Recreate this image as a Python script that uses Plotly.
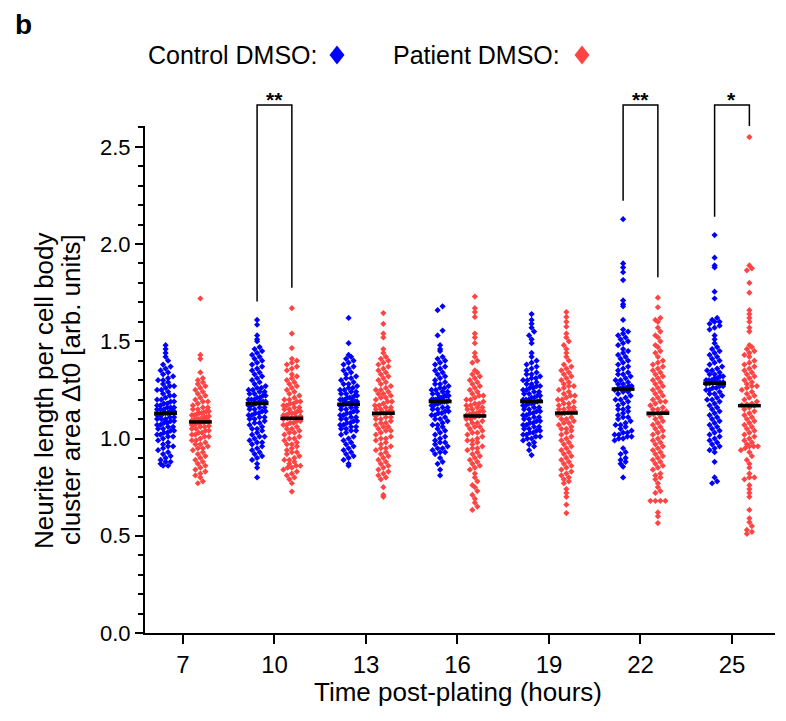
import numpy as np
import plotly.graph_objects as go

# ---------------- data ----------------
times = ['7', '10', '13', '16', '19', '22', '25']

ctrl_7 = [1.48,1.46,1.44,1.42,1.40,1.38,1.37,1.36,1.35,1.34,1.33,1.32,1.31,1.30,1.30,1.29,1.28,1.27,1.27,1.26,
          1.25,1.25,1.24,1.23,1.22,1.22,1.21,1.20,1.20,1.19,1.19,1.18,1.18,1.17,1.17,1.16,1.16,1.16,1.15,1.15,
          1.15,1.14,1.14,1.14,1.13,1.13,
          1.13,1.12,1.12,1.12,1.11,1.11,1.10,1.10,1.10,1.09,1.09,1.08,1.08,1.07,1.07,1.06,1.06,1.05,1.05,1.04,
          1.04,1.03,1.03,1.02,1.02,1.01,1.01,1.00,0.99,0.98,0.97,0.96,0.96,0.95,0.94,0.93,0.92,0.91,0.90,0.89,
          0.88,0.88,0.87,0.86,0.86]
pat_7 = [1.72,1.43,1.41,1.34,1.31,1.30,1.29,1.28,1.27,1.26,1.25,1.24,1.23,1.22,1.21,1.20,1.19,1.19,1.18,1.17,
         1.16,1.16,1.15,1.15,1.14,1.14,1.13,1.13,1.12,1.12,1.115,1.11,1.11,1.105,1.10,1.10,1.098,1.095,1.093,1.09,
         1.09,1.088,1.086,1.135,1.125,1.085,
         1.083,1.08,1.08,1.075,1.07,1.07,1.065,1.06,1.06,1.05,1.05,1.04,1.04,1.03,1.03,1.02,1.02,1.01,1.01,1.00,
         0.99,0.99,0.98,0.97,0.97,0.96,0.95,0.95,0.94,0.93,0.92,0.91,0.90,0.89,0.88,0.87,0.86,0.85,0.84,0.83,
         0.82,0.81,0.80,0.78,0.77]
ctrl_10 = [1.61,1.585,1.53,1.51,1.50,1.47,1.46,1.45,1.44,1.43,1.42,1.41,1.40,1.39,1.38,1.37,1.36,1.35,1.34,1.33,
           1.32,1.31,1.30,1.29,1.28,1.27,1.26,1.26,1.25,1.25,1.24,1.24,1.23,1.23,1.22,1.22,1.21,1.21,1.20,1.20,
           1.20,1.19,1.19,1.19,1.185,1.18,
           1.175,1.17,1.17,1.16,1.16,1.15,1.15,1.14,1.14,1.13,1.13,1.12,1.12,1.11,1.11,1.10,1.10,1.09,1.08,1.08,
           1.07,1.06,1.05,1.05,1.04,1.03,1.02,1.01,1.01,1.00,0.99,0.98,0.98,0.97,0.96,0.95,0.94,0.93,0.92,0.91,
           0.90,0.89,0.87,0.85,0.80]
pat_10 = [1.67,1.54,1.465,1.41,1.40,1.39,1.38,1.37,1.36,1.35,1.33,1.32,1.31,1.30,1.29,1.28,1.27,1.26,1.25,1.24,
          1.23,1.22,1.21,1.20,1.20,1.19,1.19,1.18,1.18,1.17,1.17,1.16,1.16,1.15,1.15,1.14,1.14,1.13,1.13,1.13,
          1.12,1.12,1.115,1.11,1.108,1.104,
          1.10,1.09,1.09,1.08,1.08,1.07,1.07,1.06,1.05,1.05,1.04,1.03,1.03,1.02,1.01,1.00,1.00,0.99,0.98,0.97,
          0.97,0.96,0.95,0.94,0.93,0.93,0.92,0.91,0.90,0.89,0.89,0.88,0.87,0.86,0.86,0.85,0.85,0.84,0.83,0.82,
          0.81,0.80,0.79,0.77,0.727]
ctrl_13 = [1.62,1.49,1.43,1.42,1.41,1.40,1.39,1.38,1.37,1.36,1.35,1.34,1.33,1.32,1.31,1.31,1.30,1.29,1.28,1.28,
           1.27,1.26,1.26,1.25,1.25,1.24,1.24,1.23,1.23,1.22,1.22,1.21,1.21,1.21,1.20,1.20,1.20,1.19,1.19,1.19,
           1.19,1.18,1.18,1.18,1.178,1.176,
           1.17,1.17,1.16,1.16,1.15,1.15,1.14,1.14,1.13,1.13,1.12,1.12,1.11,1.11,1.10,1.10,1.09,1.09,1.08,1.08,
           1.07,1.07,1.06,1.06,1.05,1.05,1.04,1.04,1.03,1.02,1.01,1.00,0.99,0.98,0.97,0.96,0.95,0.94,0.93,0.92,
           0.91,0.90,0.89,0.87,0.86]
pat_13 = [1.645,1.59,1.54,1.52,1.46,1.44,1.42,1.41,1.40,1.39,1.38,1.37,1.36,1.35,1.34,1.33,1.32,1.31,1.30,1.29,
          1.28,1.27,1.26,1.25,1.25,1.24,1.23,1.23,1.22,1.21,1.21,1.20,1.19,1.19,1.18,1.17,1.17,1.16,1.16,1.15,
          1.15,1.14,1.14,1.135,1.132,1.13,
          1.125,1.12,1.11,1.11,1.10,1.10,1.09,1.08,1.08,1.07,1.06,1.06,1.05,1.04,1.04,1.03,1.02,1.01,1.00,1.00,
          0.99,0.98,0.97,0.96,0.95,0.95,0.94,0.93,0.92,0.91,0.90,0.89,0.88,0.87,0.86,0.85,0.84,0.83,0.82,0.81,
          0.80,0.79,0.75,0.71,0.70]
ctrl_16 = [1.68,1.66,1.555,1.53,1.48,1.46,1.45,1.42,1.41,1.40,1.39,1.38,1.37,1.36,1.35,1.34,1.33,1.32,1.31,1.30,
           1.29,1.28,1.28,1.27,1.26,1.26,1.25,1.25,1.24,1.24,1.23,1.23,1.22,1.22,1.22,1.21,1.21,1.21,1.20,1.20,
           1.20,1.20,1.19,1.19,1.195,1.19,
           1.185,1.18,1.18,1.17,1.17,1.16,1.16,1.15,1.15,1.14,1.14,1.13,1.13,1.12,1.12,1.11,1.10,1.10,1.09,1.08,
           1.07,1.07,1.06,1.05,1.04,1.03,1.02,1.01,1.00,0.99,0.98,0.98,0.97,0.96,0.95,0.95,0.94,0.93,0.93,0.92,
           0.90,0.88,0.87,0.84,0.81]
pat_16 = [1.73,1.67,1.65,1.625,1.54,1.52,1.49,1.44,1.42,1.40,1.39,1.35,1.34,1.33,1.32,1.31,1.30,1.29,1.28,1.27,
          1.26,1.25,1.24,1.23,1.22,1.22,1.21,1.20,1.20,1.19,1.18,1.18,1.17,1.17,1.16,1.16,1.15,1.15,1.14,1.14,
          1.13,1.13,1.125,1.12,1.118,1.116,
          1.11,1.10,1.10,1.09,1.08,1.08,1.07,1.06,1.06,1.05,1.04,1.03,1.03,1.02,1.01,1.00,0.99,0.99,0.98,0.97,
          0.96,0.95,0.95,0.94,0.93,0.92,0.91,0.90,0.89,0.88,0.87,0.86,0.85,0.84,0.82,0.80,0.78,0.76,0.75,0.73,
          0.71,0.69,0.67,0.65,0.633]
ctrl_19 = [1.64,1.61,1.59,1.57,1.55,1.53,1.51,1.49,1.44,1.42,1.40,1.39,1.38,1.37,1.36,1.35,1.34,1.33,1.33,1.32,
           1.31,1.31,1.30,1.30,1.29,1.28,1.28,1.27,1.27,1.26,1.26,1.25,1.25,1.24,1.24,1.23,1.23,1.22,1.22,1.21,
           1.21,1.20,1.20,1.20,1.195,1.19,
           1.185,1.18,1.18,1.17,1.17,1.16,1.16,1.15,1.15,1.14,1.14,1.13,1.13,1.12,1.12,1.11,1.11,1.10,1.10,1.09,
           1.09,1.08,1.08,1.07,1.07,1.06,1.06,1.05,1.05,1.04,1.04,1.03,1.03,1.02,1.02,1.01,1.01,1.00,1.00,0.99,
           0.98,0.97,0.96,0.94,0.915]
pat_19 = [1.65,1.625,1.60,1.575,1.54,1.52,1.50,1.48,1.46,1.44,1.42,1.40,1.38,1.37,1.36,1.35,1.34,1.33,1.32,1.31,
          1.30,1.29,1.28,1.27,1.27,1.26,1.25,1.24,1.23,1.22,1.22,1.21,1.20,1.20,1.19,1.18,1.18,1.17,1.16,1.16,
          1.15,1.15,1.14,1.14,1.135,1.131,
          1.125,1.12,1.11,1.10,1.10,1.09,1.08,1.08,1.07,1.06,1.05,1.05,1.04,1.03,1.02,1.01,1.00,0.99,0.98,0.97,
          0.96,0.95,0.94,0.93,0.92,0.91,0.90,0.89,0.88,0.87,0.86,0.85,0.84,0.83,0.82,0.81,0.80,0.79,0.78,0.77,
          0.74,0.72,0.70,0.66,0.617]
ctrl_22 = [2.128,1.90,1.88,1.855,1.815,1.71,1.69,1.68,1.61,1.56,1.55,1.54,1.53,1.52,1.51,1.50,1.49,1.48,1.46,1.45,
           1.44,1.43,1.42,1.41,1.40,1.39,1.38,1.37,1.36,1.35,1.34,1.33,1.33,1.32,1.31,1.30,1.30,1.29,1.28,1.28,
           1.27,1.27,1.26,1.26,1.258,1.254,
           1.25,1.24,1.24,1.23,1.22,1.21,1.20,1.20,1.19,1.18,1.17,1.16,1.15,1.15,1.14,1.13,1.12,1.11,1.11,1.10,
           1.09,1.08,1.07,1.07,1.06,1.05,1.04,1.03,1.03,1.02,1.02,1.01,1.01,1.00,1.00,0.99,0.95,0.93,0.92,0.90,
           0.89,0.88,0.87,0.855,0.80]
pat_22 = [1.724,1.675,1.62,1.61,1.60,1.57,1.55,1.53,1.52,1.50,1.48,1.47,1.45,1.44,1.42,1.40,1.39,1.38,1.37,1.36,
          1.35,1.34,1.33,1.32,1.31,1.30,1.29,1.28,1.27,1.26,1.25,1.24,1.23,1.22,1.21,1.20,1.19,1.19,1.18,1.17,
          1.16,1.15,1.15,1.14,1.135,1.13,
          1.125,1.12,1.11,1.10,1.09,1.08,1.07,1.06,1.05,1.04,1.03,1.02,1.01,1.00,0.99,0.98,0.97,0.96,0.95,0.94,
          0.93,0.92,0.91,0.90,0.89,0.88,0.87,0.86,0.85,0.84,0.82,0.81,0.80,0.79,0.77,0.75,0.73,0.72,0.68,0.68,
          0.68,0.68,0.62,0.60,0.565]
ctrl_25 = [2.046,1.93,1.89,1.88,1.755,1.72,1.62,1.61,1.60,1.60,1.59,1.58,1.57,1.56,1.53,1.51,1.49,1.47,1.46,1.45,
           1.44,1.43,1.42,1.41,1.40,1.39,1.38,1.37,1.36,1.35,1.35,1.34,1.33,1.33,1.32,1.32,1.31,1.31,1.30,1.30,
           1.30,1.29,1.29,1.29,1.287,1.284,
           1.28,1.27,1.27,1.26,1.26,1.25,1.25,1.24,1.23,1.23,1.22,1.21,1.20,1.20,1.19,1.18,1.17,1.16,1.15,1.14,
           1.13,1.12,1.11,1.10,1.09,1.08,1.07,1.06,1.05,1.04,1.03,1.02,1.01,1.00,0.99,0.98,0.97,0.96,0.95,0.94,
           0.93,0.88,0.80,0.78,0.77]
pat_25 = [2.55,1.89,1.875,1.865,1.80,1.75,1.66,1.64,1.62,1.60,1.57,1.55,1.48,1.47,1.46,1.45,1.44,1.43,1.42,1.40,
          1.39,1.38,1.37,1.36,1.35,1.34,1.33,1.32,1.31,1.30,1.29,1.28,1.27,1.27,1.26,1.25,1.24,1.23,1.22,1.21,
          1.20,1.19,1.18,1.175,1.172,1.169,
          1.16,1.15,1.14,1.13,1.12,1.11,1.10,1.09,1.08,1.07,1.06,1.05,1.04,1.03,1.02,1.01,1.00,0.99,0.98,0.97,
          0.96,0.96,0.96,0.95,0.94,0.93,0.91,0.89,0.87,0.85,0.82,0.80,0.80,0.79,0.76,0.74,0.72,0.70,0.633,0.59,
          0.57,0.55,0.53,0.52,0.51]

control_groups = [ctrl_7, ctrl_10, ctrl_13, ctrl_16, ctrl_19, ctrl_22, ctrl_25]
patient_groups = [pat_7, pat_10, pat_13, pat_16, pat_19, pat_22, pat_25]

sig_times = ['10', '22', '25']
sig_labels = ['**', '**', '*']

# ---------------- styling / layout ----------------
W, H = 786, 721
ML, MR, MT, MB = 145, 11, 126, 88
PW, PH = W - ML - MR, H - MT - MB
XR = [-0.415, 6.47]
YR = [0, 2.607]
PX_X = PW / (XR[1] - XR[0])
PX_Y = PH / (YR[1] - YR[0])
BLUE = '#0000FF'
RED = '#FF4444'
FONT = 'Liberation Sans, Arial, Helvetica, sans-serif'
GROUP_OFF = 0.19
MED_HALF = 0.125


def swarm_x(vals, center, row_px=5.0, step_px=5.0, max_w_px=17.0):
    v = np.asarray(vals, dtype=float)
    order = np.argsort(v)
    rows = np.round(v[order] * PX_Y / row_px).astype(int)
    xs = np.empty(len(v))
    for r in np.unique(rows):
        idx = order[rows == r]
        k = len(idx)
        step = step_px if k < 2 else min(step_px, max_w_px / (k - 1))
        offs = (np.arange(k) - (k - 1) / 2.0) * step
        xs[idx] = center + offs / PX_X
    return xs


fig = go.Figure()
med_x, med_y = [], []
for i, t in enumerate(times):
    for grp, off, col in ((control_groups[i], -GROUP_OFF, BLUE), (patient_groups[i], GROUP_OFF, RED)):
        c = i + off
        fig.add_trace(go.Scatter(
            x=swarm_x(grp, c), y=grp, mode='markers',
            marker=dict(symbol='diamond', size=4.8, color=col, line=dict(width=0)),
            showlegend=False, hoverinfo='y'))
        m = float(np.median(grp))
        med_x += [c - MED_HALF, c + MED_HALF, None]
        med_y += [m, m, None]
fig.add_trace(go.Scatter(x=med_x, y=med_y, mode='lines', line=dict(color='black', width=3.5),
                         showlegend=False, hoverinfo='skip'))


def xp(xv):
    return (xv - XR[0]) / (XR[1] - XR[0])


def yp(v):
    return (v - YR[0]) / (YR[1] - YR[0])


def pxp(px):
    return (px - ML) / PW


def pyp(py):
    return (H - MB - py) / PH


shapes = []
annotations = []
BR_TOP = 2.715
for t, lab in zip(sig_times, sig_labels):
    i = times.index(t)
    xl, xr = i - GROUP_OFF, i + GROUP_OFF
    yl = min(max(control_groups[i]) + 0.095, YR[1])
    yr = min(max(patient_groups[i]) + 0.105, YR[1])
    path = 'M {:.5f},{:.5f} L {:.5f},{:.5f} L {:.5f},{:.5f} L {:.5f},{:.5f}'.format(
        xp(xl), yp(yl), xp(xl), yp(BR_TOP), xp(xr), yp(BR_TOP), xp(xr), yp(yr))
    shapes.append(dict(type='path', xref='paper', yref='paper', path=path,
                       line=dict(color='black', width=1.5)))
    annotations.append(dict(x=xp(i), y=pyp(100), xref='paper', yref='paper', text='<b>' + lab + '</b>',
                            showarrow=False, xanchor='center', yanchor='middle',
                            font=dict(family=FONT, size=21, color='black')))

# legend (text then diamond)
leg_items = [('Control DMSO:', BLUE, 146, 337), ('Patient DMSO:', RED, 391, 582)]
for txt, col, tx, dx in leg_items:
    annotations.append(dict(x=pxp(tx), y=pyp(55), xref='paper', yref='paper', text=txt,
                            showarrow=False, xanchor='left', yanchor='middle',
                            font=dict(family=FONT, size=25, color='black')))
    shapes.append(dict(type='path', xref='paper', yref='paper', xsizemode='pixel', ysizemode='pixel',
                       xanchor=pxp(dx), yanchor=pyp(55), path='M 0,9.5 L 7.5,0 L 0,-9.5 L -7.5,0 Z',
                       fillcolor=col, line=dict(width=0)))

# panel label
annotations.append(dict(x=pxp(13), y=pyp(24), xref='paper', yref='paper', text='<b>b</b>',
                        showarrow=False, xanchor='left', yanchor='middle',
                        font=dict(family=FONT, size=28, color='black')))
# y title (two lines)
for line_txt, px in (('Neurite length per cell body', 44), ('cluster area \u0394t0 [arb. units]', 71)):
    annotations.append(dict(x=pxp(px), y=pyp(390), xref='paper', yref='paper', text=line_txt,
                            textangle=-90, showarrow=False, xanchor='center', yanchor='middle',
                            font=dict(family=FONT, size=26, color='black')))
# x title
annotations.append(dict(x=pxp(458), y=pyp(692), xref='paper', yref='paper',
                        text='Time post-plating (hours)', showarrow=False,
                        xanchor='center', yanchor='middle',
                        font=dict(family=FONT, size=26, color='black')))

fig.update_layout(
    width=W, height=H, margin=dict(l=ML, r=MR, t=MT, b=MB),
    paper_bgcolor='white', plot_bgcolor='white', showlegend=False,
    font=dict(family=FONT, color='black'),
    shapes=shapes, annotations=annotations,
    xaxis=dict(range=XR, tickmode='array', tickvals=list(range(len(times))), ticktext=times,
               showgrid=False, zeroline=False, showline=True, linecolor='black', linewidth=2,
               ticks='outside', ticklen=9, tickwidth=2, tickcolor='black',
               tickfont=dict(family=FONT, size=24, color='black')),
    yaxis=dict(range=YR, tickmode='array', tickvals=[0, 0.5, 1.0, 1.5, 2.0, 2.5],
               ticktext=['0.0', '0.5', '1.0', '1.5', '2.0', '2.5'],
               showgrid=False, zeroline=False, showline=True, linecolor='black', linewidth=2,
               ticks='outside', ticklen=8, tickwidth=2, tickcolor='black',
               minor=dict(dtick=0.1, tick0=0, ticks='outside', ticklen=5, tickwidth=2, tickcolor='black'),
               tickfont=dict(family=FONT, size=22, color='black')),
)

fig.write_html('out.html')
